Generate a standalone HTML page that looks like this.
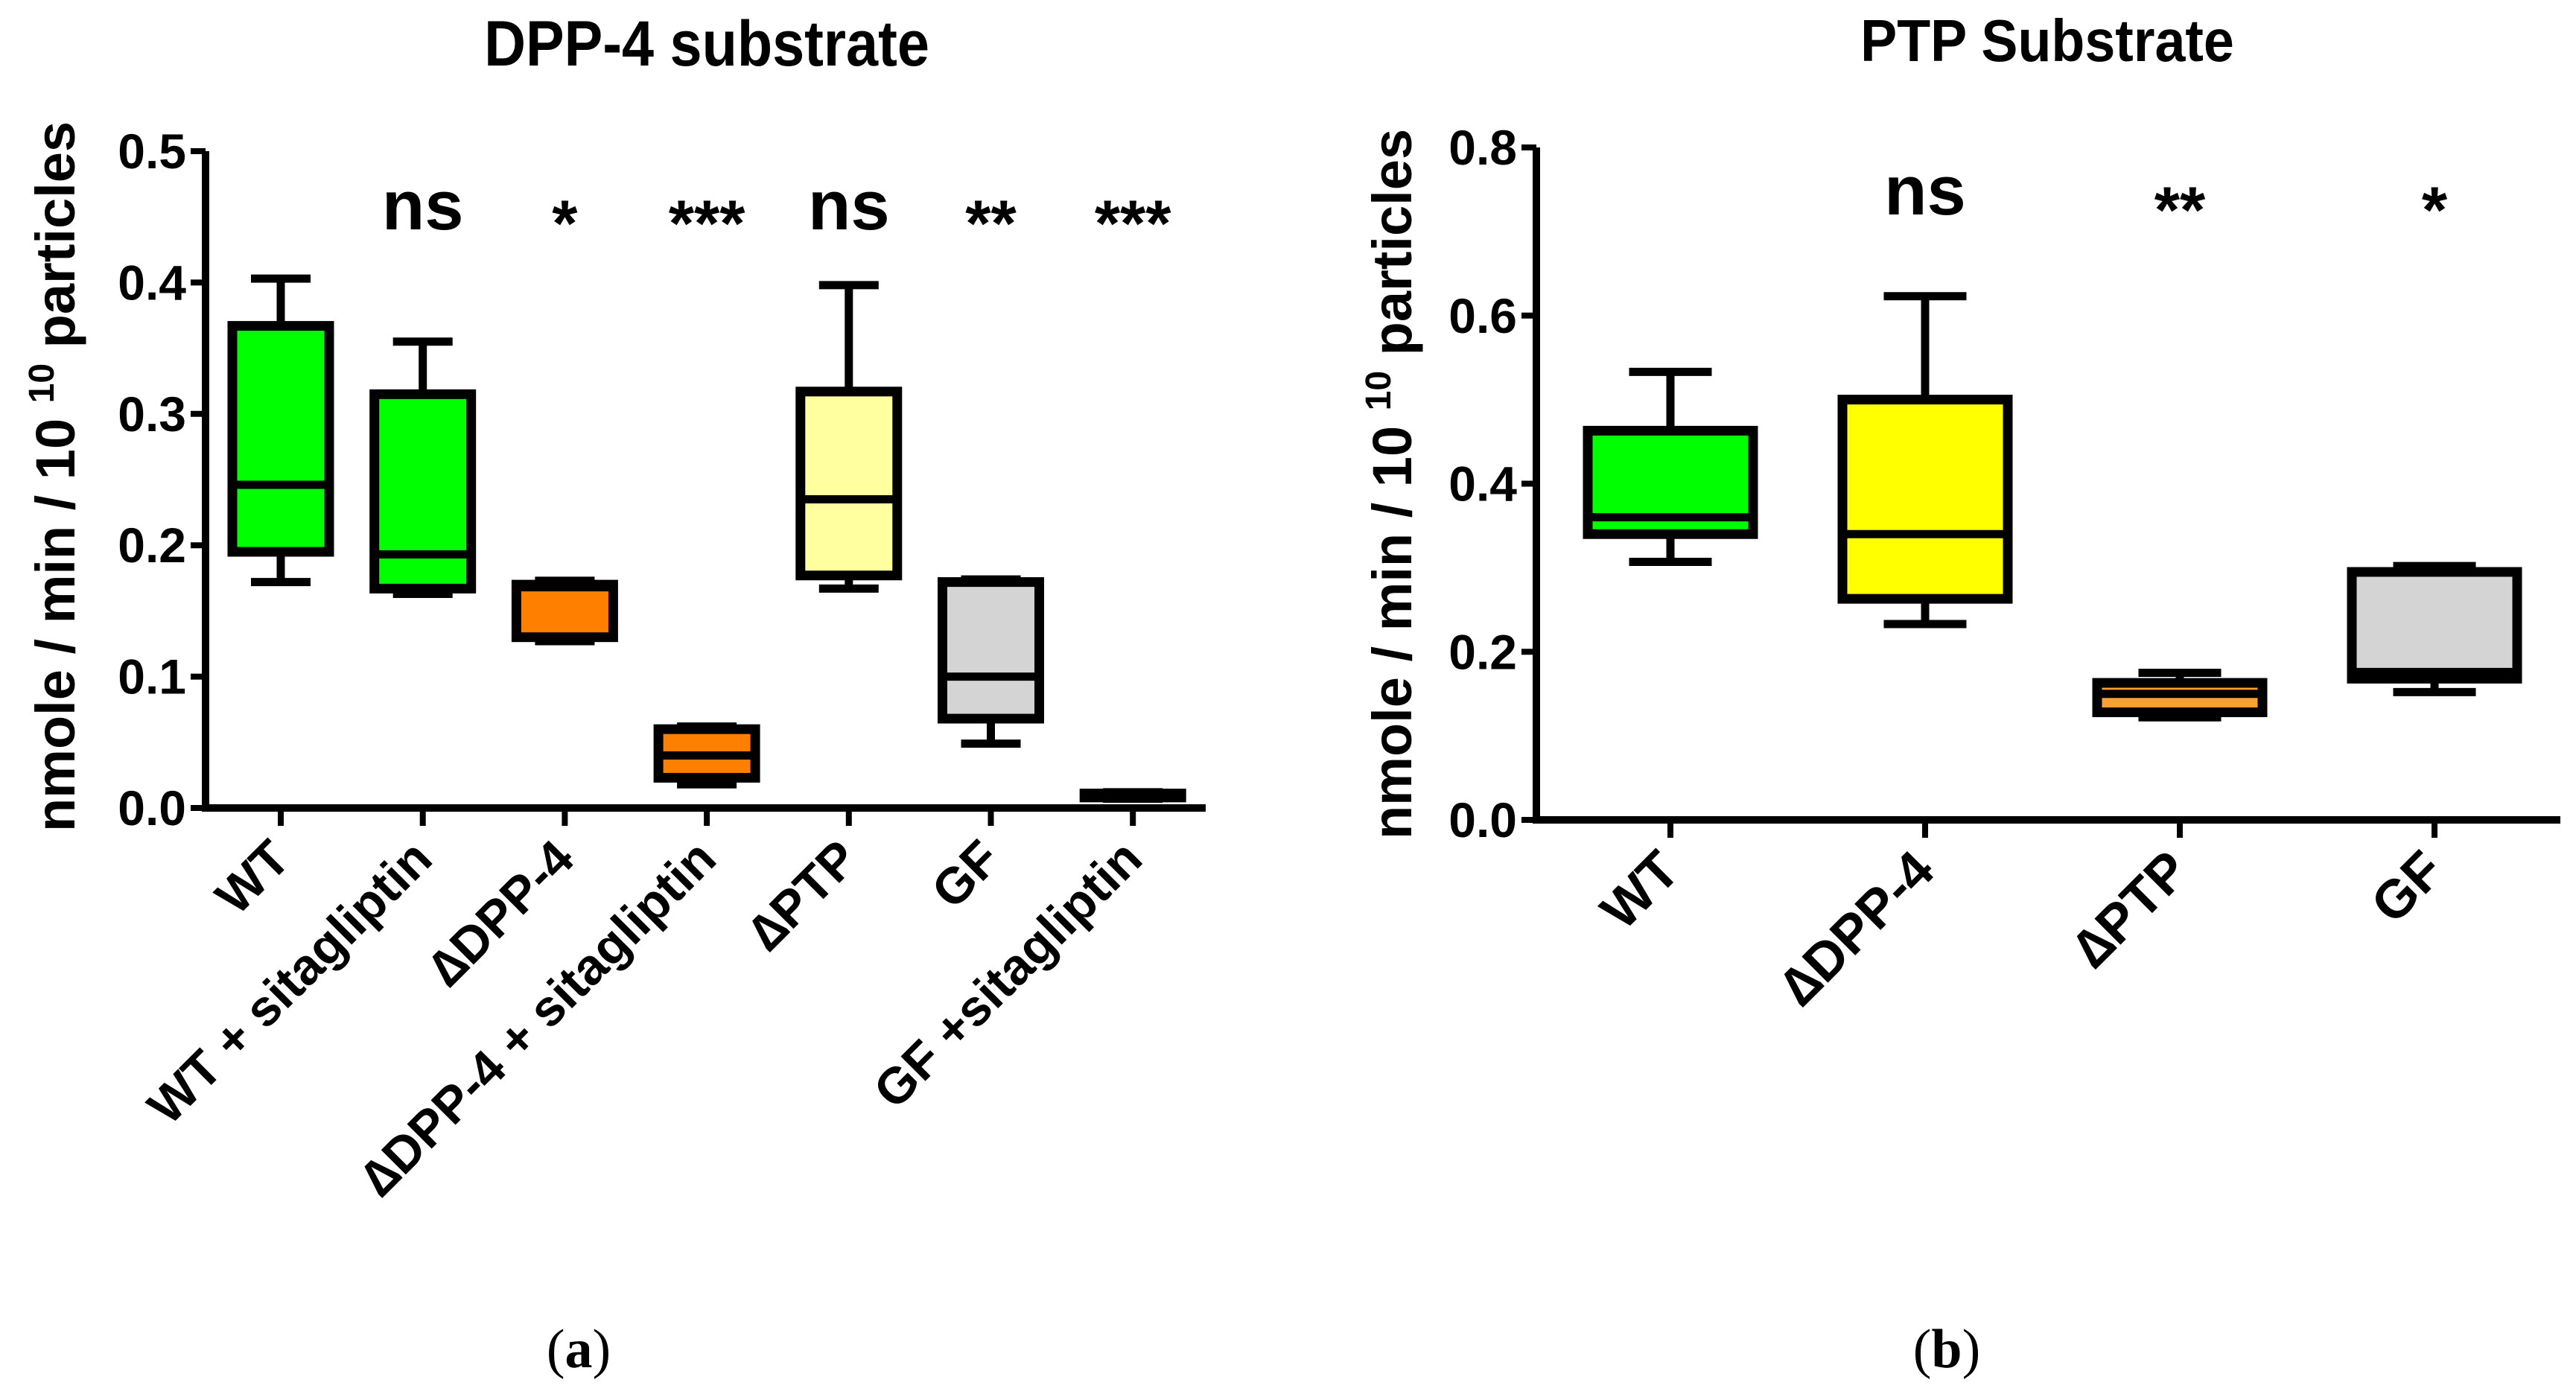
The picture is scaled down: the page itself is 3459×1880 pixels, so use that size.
<!DOCTYPE html>
<html><head><meta charset="utf-8"><style>
html,body{margin:0;padding:0;background:#fff;width:3459px;height:1880px;overflow:hidden}
svg{display:block}
text{font-family:"Liberation Sans",sans-serif;font-weight:bold;fill:#000}
</style></head><body>
<svg id="fig" width="3459" height="1880" viewBox="0 0 3459 1880">
<text x="949" y="88" font-size="86" text-anchor="middle" transform="translate(949 0) scale(0.9 1) translate(-949 0)">DPP-4 substrate</text>
<text x="2749" y="82" font-size="80" text-anchor="middle" transform="translate(2749 0) scale(0.92 1) translate(-2749 0)">PTP Substrate</text>
<text x="777" y="1836" font-size="74" text-anchor="middle" style="font-family:'Liberation Serif',serif;font-weight:normal">(<tspan font-weight="bold">a</tspan>)</text>
<text x="2614" y="1836" font-size="74" text-anchor="middle" style="font-family:'Liberation Serif',serif;font-weight:normal">(<tspan font-weight="bold">b</tspan>)</text>
<g id="ga"></g>
<g id="gb"></g>
</svg>
<script>
// Chart A data
const catsA = ["WT","WT + sitagliptin","\u2206DPP-4","\u2206DPP-4 + sitagliptin","\u2206PTP","GF","GF +sitagliptin"];
const minA = [0.172,0.163,0.127,0.018,0.167,0.049,0.007];
const q1A  = [0.195,0.167,0.130,0.023,0.177,0.068,0.008];
const medA = [0.246,0.193,0.168,0.040,0.235,0.100,0.009];
const q3A  = [0.367,0.315,0.170,0.060,0.317,0.172,0.011];
const maxA = [0.403,0.355,0.173,0.062,0.398,0.174,0.012];
const colA = ["#00ff00","#00ff00","#ff8000","#ff8000","#ffffa0","#d4d4d4","#d4d4d4"];
const sigA = ["","ns","*","***","ns","**","***"];
const ticksA = ["0.0","0.1","0.2","0.3","0.4","0.5"];
// Chart B data
const catsB = ["WT","\u2206DPP-4","\u2206PTP","GF"];
const minB = [0.307,0.233,0.122,0.152];
const q1B  = [0.340,0.263,0.128,0.168];
const medB = [0.360,0.340,0.150,0.176];
const q3B  = [0.463,0.500,0.163,0.295];
const maxB = [0.533,0.623,0.175,0.302];
const colB = ["#00ff00","#ffff00","#ffa030","#d4d4d4"];
const sigB = ["","ns","**","*"];
const ticksB = ["0.0","0.2","0.4","0.6","0.8"];

const NS="http://www.w3.org/2000/svg";
function mk(p,t,a,txt){const e=document.createElementNS(NS,t);for(const k in a)e.setAttribute(k,a[k]);if(txt!==undefined)e.textContent=txt;p.appendChild(e);return e;}

function draw(g,o,cats,mn,q1,md,q3,mx,col,sig,ticks){
  const y=v=>o.y0-(v/o.ymax)*(o.y0-o.y1);
  const x=i=>o.x0+i*o.step;
  const ax=mk(g,'path',{d:`M${o.ax} ${o.y1} V${o.y0} H${o.axEnd}`,stroke:'#000','stroke-width':10,fill:'none'});
  
  
  ticks.forEach(t=>{
    const v=parseFloat(t);
    const tk=mk(g,'line',{x1:o.ax-20,x2:o.ax,y1:y(v),y2:y(v),stroke:'#000','stroke-width':8});
    
    
    const tl=mk(g,'text',{x:o.ax-26,y:y(v)+23,'font-size':66,'text-anchor':'end'},t);
    
    
  });
  const yl=mk(g,'text',{x:0,y:0,'font-size':74,'text-anchor':'middle',transform:`translate(${o.ylx} ${o.yly}) rotate(-90)`});
  yl.innerHTML='nmole / min / 10 <tspan dy="-28" font-size="48">10</tspan><tspan dy="28"> particles</tspan>';
  
  
  cats.forEach((c,i)=>{
    const cx=x(i),hw=o.bw/2,cw=o.cw/2;
    const tk=mk(g,'line',{x1:cx,x2:cx,y1:o.y0,y2:o.y0+24,stroke:'#000','stroke-width':8});
    
    
    const wh=mk(g,'path',{d:`M${cx} ${y(mx[i])} V${y(q3[i])} M${cx} ${y(q1[i])} V${y(mn[i])} M${cx-cw} ${y(mx[i])} H${cx+cw} M${cx-cw} ${y(mn[i])} H${cx+cw}`,stroke:'#000','stroke-width':11,fill:'none'});
    
    
    const bx=mk(g,'rect',{x:cx-hw,y:y(q3[i]),width:o.bw,height:Math.max(y(q1[i])-y(q3[i]),1),fill:col[i],stroke:'#000','stroke-width':13});
    
    
    const me=mk(g,'line',{x1:cx-hw,x2:cx+hw,y1:y(md[i]),y2:y(md[i]),stroke:'#000','stroke-width':11});
    
    
    if(sig[i]){
      const st=sig[i]==='ns';
      const s=mk(g,'text',{x:cx,y:st?o.nsY:o.starY,'font-size':st?94:88,'text-anchor':'middle'},sig[i]);
      
      
    }
    const lx=cx+16,ly=o.y0+72;
    const l=mk(g,'text',{x:lx,y:ly,'font-size':o.lfs,'text-anchor':'end',transform:`rotate(-45 ${lx} ${ly})`},c);
    
    
  });
}
draw(document.getElementById('ga'),{ax:276,axEnd:1619,y0:1085,y1:203,ymax:0.5,x0:377,step:190.7,bw:130,cw:80,ylx:100,yly:640,nsY:308,starY:330,lfs:68},catsA,minA,q1A,medA,q3A,maxA,colA,sigA,ticksA);
draw(document.getElementById('gb'),{ax:2063,axEnd:3438,y0:1101,y1:198,ymax:0.8,x0:2243,step:342,bw:222,cw:111,ylx:1895,yly:650,nsY:288,starY:312,lfs:72},catsB,minB,q1B,medB,q3B,maxB,colB,sigB,ticksB);
</script>
</body></html>
